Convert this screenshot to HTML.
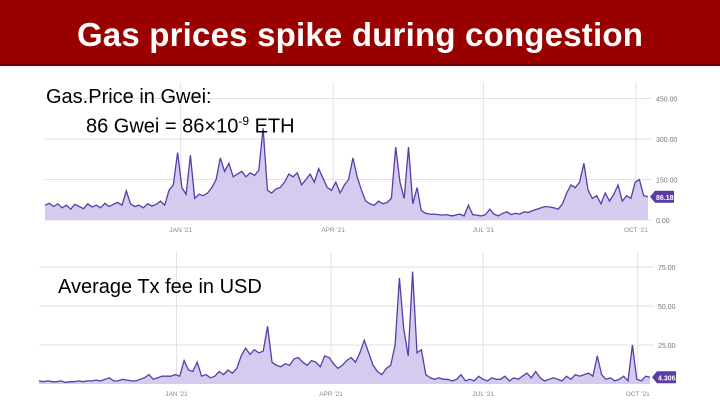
<!DOCTYPE html>
<html><head><meta charset="utf-8"><style>
body{margin:0;width:720px;height:405px;overflow:hidden;background:#fff;font-family:"Liberation Sans",sans-serif;position:relative}
#title{position:absolute;left:0;top:0;width:720px;height:64px;background:#990000;border-bottom:2px solid #6d0000;color:#fff;font-weight:bold;font-size:33px;text-align:center;line-height:70px;font-family:"Liberation Sans",sans-serif;letter-spacing:0.2px}
.lbl{position:absolute;color:#000;font-size:20px;white-space:nowrap}
svg{position:absolute;left:0;top:0}
</style></head><body>
<div id="title">Gas prices spike during congestion</div>
<svg id="chart" width="720" height="405"></svg>
<div class="lbl" style="left:46px;top:86px">Gas.Price in Gwei:</div>
<div class="lbl" style="left:86px;top:114px">86 Gwei = 86×10<sup style="font-size:12px">-9</sup> ETH</div>
<div class="lbl" style="left:58px;top:276px">Average Tx fee in USD</div>
<script>
const gasValues=[55,62,50,60,45,55,40,58,50,42,60,48,55,45,62,50,58,65,55,108,60,50,55,45,60,52,58,70,55,110,
130,250,120,95,240,80,95,90,100,120,150,230,180,210,160,170,180,160,175,165,185,340,110,100,115,120,140,170,160,175,130,150,170,140,190,155,120,110,140,100,130,150,230,160,110,70,60,55,70,60,65,80,270,140,80,270,60,120,35,25,22,22,20,18,20,15,18,22,15,55,20,18,15,20,40,22,15,25,30,20,25,22,30,28,35,40,45,50,48,45,40,60,100,130,120,140,210,110,80,90,60,100,70,95,130,70,90,80,140,150,90,86];
const feeValues=[2,1.5,2,1.5,1.5,2,1,1.5,1.5,2,1.5,2,2,2.5,2,3,4,2,2,3,2.5,2,2,3,4,6,3,4,5,5,
5,6,5,15,9,8,14,5,6,4,5,8,6,9,7,10,18,23,19,22,20,21,37,14,12,11,13,12,16,17,14,
12,15,14,11,18,17,13,10,12,15,17,14,20,28,20,12,8,6,10,12,25,68,35,18,72,20,22,
6,4,3,4,3,3,2,3,6,2,3,2,5,3,2,4,3,3,5,2,4,3,5,7,4,8,4,2,3,4,3,2,5,3,6,5,6,7,5,18,6,3,4,2,3,5,2,25,3,2,5,4.3];
const gasTicks=[0,150,300,450];
const gasTickLabels=["0.00","150.00","300.00","450.00"];
const feeTicks=[25,50,75];
const feeTickLabels=["25.00","50.00","75.00"];
const monthLabels=["JAN '21","APR '21","JUL '21","OCT '21"];
const monthPos=[0.225,0.478,0.727,0.98];
const NS="http://www.w3.org/2000/svg";
const svg=document.getElementById('chart');
function mk(t,a,p){const e=document.createElementNS(NS,t);for(const k in a)e.setAttribute(k,a[k]);(p||svg).appendChild(e);return e;}
function draw(cfg){
  const {vals,x0,x1,y0,pxPer,ticks,tlabels,badge,name}=cfg;
  const g=mk('g',{});
  
  
  const xs=i=>x0+(x1-x0)*i/(vals.length-1);
  const ys=v=>y0-v*pxPer;
  ticks.forEach((t,i)=>{
    const l=mk('line',{x1:x0,x2:x1+4,y1:ys(t),y2:ys(t),stroke:'#e2e2e2','stroke-width':1},g);
    
    const tx=mk('text',{x:x1+8,y:ys(t)+3,'font-size':7,fill:'#777','font-family':'Liberation Sans'},g);
    tx.textContent=tlabels[i];
    
  });
  monthPos.forEach((p,i)=>{
    const x=x0+(x1-x0)*p;
    const l=mk('line',{x1:x,x2:x,y1:cfg.top,y2:y0,stroke:'#e2e2e2','stroke-width':1},g);
    
    const tx=mk('text',{x:x,y:y0+12,'font-size':6.5,fill:'#888','text-anchor':'middle','font-family':'Liberation Sans'},g);
    tx.textContent=monthLabels[i];
    
  });
  let d='';vals.forEach((v,i)=>{d+=(i?'L':'M')+xs(i).toFixed(1)+' '+ys(v).toFixed(1);});
  const area=mk('path',{d:d+`L${x1} ${y0}L${x0} ${y0}Z`,fill:'#d5cbef'},g);
  
  const line=mk('path',{d:d,fill:'none',stroke:'#5a3ca8','stroke-width':1.3},g);
  
  const by=ys(vals[vals.length-1]);
  const b=mk('path',{d:`M${x1+2} ${by}L${x1+7} ${by-6}H${x1+26}V${by+6}H${x1+7}Z`,fill:'#5a3ca8'},g);
  
  const bt=mk('text',{x:x1+8,y:by+3,'font-size':7,fill:'#fff','font-weight':'bold','font-family':'Liberation Sans'},g);
  bt.textContent=badge;
  
}
draw({vals:gasValues,x0:45,x1:648,y0:220,pxPer:40.5/150,ticks:gasTicks,tlabels:gasTickLabels,badge:'86.18',name:'gas-price-chart',top:82});
draw({vals:feeValues,x0:39,x1:650,y0:384,pxPer:39/25,ticks:feeTicks,tlabels:feeTickLabels,badge:'4.306',name:'tx-fee-chart',top:252});
</script>
</body></html>
